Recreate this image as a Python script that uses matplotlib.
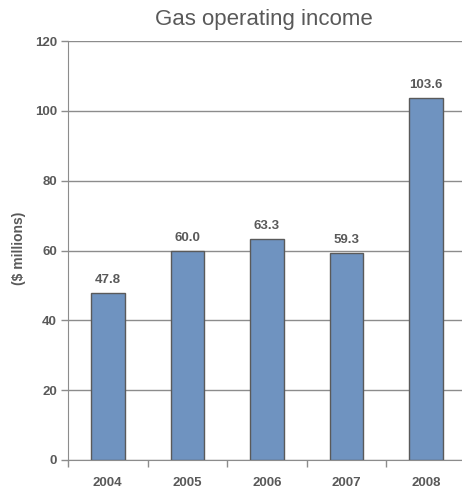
import numpy as np
import matplotlib.pyplot as plt

years = ['2004', '2005', '2006', '2007', '2008']
income = [47.8, 60.0, 63.3, 59.3, 103.6]
y_ticks = [0, 20, 40, 60, 80, 100, 120]

text_color = '#595959'
bar_color = '#6f93c0'
grid_color = '#8c8c8c'

plt.rcParams['font.family'] = ['Liberation Sans', 'DejaVu Sans']

fig = plt.figure(figsize=(4.62, 4.91), dpi=100)
# axes extend slightly past the right edge, like the original
ax = fig.add_axes([68/462, 31/491, 398/462, 419/491])

x = np.arange(len(years))
ax.bar(x, income, width=0.42, color=bar_color, edgecolor='#5a5a5a', linewidth=1, zorder=3)
for xi, v in zip(x, income):
    ax.text(xi, v + 2.0, f'{v:.1f}', ha='center', va='bottom', fontsize=9.5,
            fontweight='bold', color=text_color)

ax.set_xlim(-0.5, 4.5)
ax.set_ylim(0, 120)
ax.set_yticks(y_ticks)
ax.set_yticklabels([str(t) for t in y_ticks])
ax.yaxis.grid(True, color=grid_color, linewidth=1, zorder=0)

# category boundaries as ticks, labels at centres
ax.set_xticks(np.arange(-0.5, 5.0, 1.0))
ax.set_xticklabels([])
ax.set_xticks(x, minor=True)
ax.set_xticklabels(years, minor=True)
ax.tick_params(axis='x', which='major', length=5, color=grid_color, width=1)
ax.tick_params(axis='x', which='minor', length=0, pad=12)
ax.tick_params(axis='y', length=5, color=grid_color, width=1, pad=3)
for lab in ax.get_xticklabels(minor=True) + ax.get_yticklabels():
    lab.set_fontsize(9.5)
    lab.set_fontweight('bold')
    lab.set_color(text_color)

for s in ['top', 'right']:
    ax.spines[s].set_visible(False)
ax.spines['left'].set_color(grid_color)
ax.spines['bottom'].set_color(grid_color)

fig.text(19/462, 1 - 248/491, '($ millions)', rotation=90, ha='center', va='center',
         fontsize=10, fontweight='bold', color=text_color)
fig.text(264/462, 1 - 20/491, 'Gas operating income', ha='center', va='center',
         fontsize=16, color=text_color)

plt.savefig('out.png', dpi=100)
